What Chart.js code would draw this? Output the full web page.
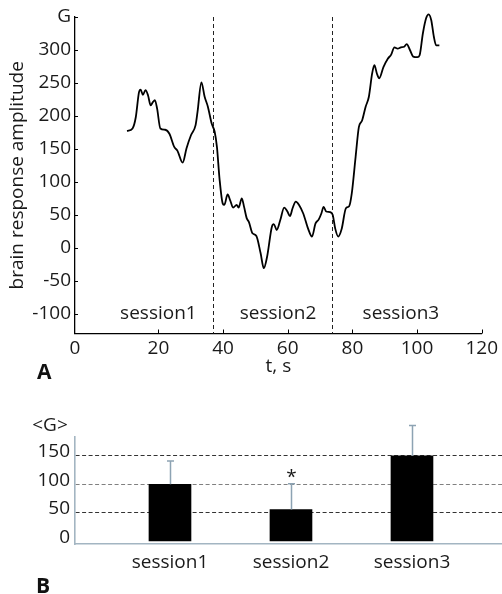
<!DOCTYPE html>
<html>
<head>
<meta charset="utf-8">
<script src="https://cdn.jsdelivr.net/npm/chart.js@4.4.1/dist/chart.umd.min.js"></script>
<style>
  body { margin: 0; background: #fff; }
  #wrap { position: relative; width: 502px; height: 594px; }
  canvas { display: block; }
  .panel { position: absolute; font: bold 21px "Open Sans", sans-serif; color: #111; }
</style>
</head>
<body>
<div id="wrap">
  <canvas id="topChart" width="502" height="395"></canvas>
  <canvas id="barChart" width="502" height="199"></canvas>
  <div class="panel" style="left:37px; top:357px;">A</div>
  <div class="panel" style="left:36px; top:571px;">B</div>
</div>
<script>
// panel A: brain response amplitude over time
const TIME = [10.3, 12.0, 13.0, 14.0, 14.5, 15.2, 16.0, 16.8, 17.6, 18.3, 18.9, 19.6, 20.6, 22.1,
  23.4, 24.9, 25.9, 27.5, 28.7, 30.1, 31.5, 32.1, 33.3, 34.3, 35.3, 36.5, 37.4, 38.1, 38.9,
  39.9, 40.4, 41.4, 42.2, 43.1, 44.2, 44.8, 45.8, 46.5, 47.3, 48.0, 49.1, 50.3, 51.6, 52.6,
  53.6, 55.1, 55.7, 56.6, 57.7, 58.9, 59.9, 60.7, 61.5, 62.5, 63.5, 64.8, 66.3, 67.5, 68.6,
  69.6, 70.4, 71.1, 71.9, 73.1, 73.9, 74.7, 75.6, 76.7, 78.0, 79.0, 79.8, 81.0, 82.0, 83.0,
  84.1, 85.1, 86.1, 86.8, 87.6, 88.3, 89.6, 91.0, 92.0, 93.0, 94.0, 95.0, 96.0, 96.8, 97.8,
  98.8, 100.1, 100.8, 101.8, 102.8, 103.6, 104.4, 105.2, 105.9, 106.9];
const AMPLITUDE = [177, 181, 198, 236, 240, 232, 239, 231, 216, 221, 224, 211, 181, 179,
  173, 153, 147, 129, 151, 171, 186, 206, 251, 229, 214, 188, 176, 153, 105,
  67, 65, 81, 72, 61, 65, 61, 75, 62, 45, 39, 22, 18, -8, -31,
  -14, 32, 36, 27, 42, 61, 55, 48, 60, 70, 65, 52, 29, 17, 37,
  43, 52, 62, 55, 54, 50, 29, 17, 29, 60, 63, 82, 138, 183, 193,
  214, 229, 264, 277, 264, 257, 274, 287, 293, 304, 302, 304, 305, 309, 300,
  290, 289, 292, 325, 348, 354, 345, 320, 307, 307];

const SESSIONS = ["session1", "session2", "session3"];
const SESSION_BOUNDS = [36.9, 73.6];
const SESSION_LABEL_T = [20, 57, 95];
const SESSION_LABEL_G = -100;

const X_MIN = -5.8, X_MAX = 120;
const X_TICKS = [20, 40, 60, 80, 100, 120];
const Y_MIN = -130, Y_MAX = 350;
const Y_TICKS = [-100, -50, 0, 50, 100, 150, 200, 250, 300, 350];

// panel B: mean amplitude per session
const MEANS = [100, 56, 150];
const ERRORS = [41, 45, 53];
const SIGNIF = ["", "*", ""];
const BAR_Y_TICKS = [0, 50, 100, 150];

const FONT = '"Open Sans", sans-serif';
const FS = 19;
const INK = "#1a1a1a";
Chart.defaults.font.family = FONT;
Chart.defaults.font.size = FS;
Chart.defaults.color = INK;

const topDecor = {
  id: "topDecor",
  beforeDatasetsDraw(chart) {
    const { ctx, chartArea, scales: { x } } = chart;
    ctx.save();
    ctx.strokeStyle = "#222";
    ctx.lineWidth = 1;
    ctx.setLineDash([4, 3]);
    SESSION_BOUNDS.forEach(t => {
      const px = Math.round(x.getPixelForValue(t)) + 0.5;
      ctx.beginPath();
      ctx.moveTo(px, chartArea.top);
      ctx.lineTo(px, chartArea.bottom);
      ctx.stroke();
    });
    ctx.restore();
  },
  afterDraw(chart) {
    const { ctx, chartArea, scales: { x, y } } = chart;
    ctx.save();
    // inward tick marks
    ctx.strokeStyle = "#000";
    ctx.lineWidth = 1;
    ctx.beginPath();
    Y_TICKS.forEach(v => {
      const py = Math.round(y.getPixelForValue(v)) + 0.5;
      ctx.moveTo(chartArea.left, py);
      ctx.lineTo(chartArea.left + 3, py);
    });
    X_TICKS.forEach(v => {
      const px = Math.round(x.getPixelForValue(v)) + 0.5;
      ctx.moveTo(px, chartArea.bottom);
      ctx.lineTo(px, chartArea.bottom - 4);
    });
    ctx.stroke();
    // session names
    ctx.fillStyle = INK;
    ctx.font = FS + "px " + FONT;
    ctx.textAlign = "center";
    ctx.textBaseline = "middle";
    SESSIONS.forEach((s, i) => {
      ctx.fillText(s, x.getPixelForValue(SESSION_LABEL_T[i]), y.getPixelForValue(SESSION_LABEL_G));
    });
    ctx.restore();
  }
};

new Chart(document.getElementById("topChart"), {
  type: "line",
  data: {
    labels: TIME,
    datasets: [{
      data: TIME.map((t, i) => ({ x: t, y: AMPLITUDE[i] })),
      borderColor: "#000",
      borderWidth: 1.8,
      pointRadius: 0,
      cubicInterpolationMode: "monotone",
      clip: false
    }]
  },
  options: {
    responsive: false,
    animation: false,
    layout: { padding: { top: 17, right: 15, left: 0, bottom: 0 } },
    plugins: { legend: { display: false }, tooltip: { enabled: false } },
    scales: {
      x: {
        type: "linear",
        min: X_MIN,
        max: X_MAX,
        offset: false,
        afterBuildTicks: s => { s.ticks = [X_MIN, ...X_TICKS].map(v => ({ value: v })); },
        afterFit: s => { s.height = 61.5; },
        grid: { display: false, drawTicks: false },
        border: { color: "#000", width: 1.3 },
        ticks: { padding: 4, maxRotation: 0, callback: v => (v === X_MIN ? "0" : v) },
        title: { display: true, text: "t, s", padding: { top: 0, bottom: 17 } }
      },
      y: {
        min: Y_MIN,
        max: Y_MAX,
        afterBuildTicks: s => { s.ticks = Y_TICKS.map(v => ({ value: v })); },
        afterFit: s => { s.width = 75; },
        grid: { display: false, drawTicks: false },
        border: { color: "#000", width: 1.3 },
        ticks: { padding: 4, callback: v => (v === Y_MAX ? "G" : v) },
        title: { display: true, text: "brain response amplitude", padding: { top: 6, bottom: 0 } }
      }
    }
  },
  plugins: [topDecor]
});

const barDecor = {
  id: "barDecor",
  afterDatasetsDraw(chart) {
    const { ctx, chartArea, scales: { x, y } } = chart;
    ctx.save();
    ctx.strokeStyle = "#8da3b3";
    ctx.lineWidth = 1.5;
    ctx.fillStyle = INK;
    ctx.font = FS + "px " + FONT;
    ctx.textAlign = "center";
    ctx.textBaseline = "middle";
    MEANS.forEach((m, i) => {
      const px = Math.round(x.getPixelForValue(i + 1)) + 0.5;
      const top = y.getPixelForValue(m + ERRORS[i]);
      ctx.beginPath();
      ctx.moveTo(px, y.getPixelForValue(m));
      ctx.lineTo(px, top);
      ctx.moveTo(px - 3.5, top);
      ctx.lineTo(px + 3.5, top);
      ctx.stroke();
      if (SIGNIF[i]) ctx.fillText(SIGNIF[i], px, top - 6);
    });
    ctx.fillText("<G>", chartArea.left - 25, chartArea.top - 11);
    ctx.restore();
  }
};

new Chart(document.getElementById("barChart"), {
  type: "bar",
  data: {
    datasets: [{
      data: SESSIONS.map((s, i) => ({ x: i + 1, y: MEANS[i] })),
      backgroundColor: "#000",
      barThickness: 42
    }]
  },
  options: {
    responsive: false,
    animation: false,
    layout: { padding: { top: 41.7, right: 0, left: 0, bottom: 0 } },
    plugins: { legend: { display: false }, tooltip: { enabled: false } },
    scales: {
      x: {
        type: "linear",
        min: 0.215,
        max: 3.744,
        offset: false,
        afterBuildTicks: s => { s.ticks = SESSIONS.map((n, i) => ({ value: i + 1 })); },
        afterFit: s => { s.height = 50; },
        grid: { display: false, drawTicks: false, offset: false },
        border: { color: "#a3b5c2", width: 1.6 },
        ticks: { padding: 7, maxRotation: 0, callback: v => SESSIONS[v - 1] }
      },
      y: {
        min: -4.4,
        max: 183.3,
        afterBuildTicks: s => { s.ticks = BAR_Y_TICKS.map(v => ({ value: v })); },
        afterFit: s => { s.width = 75; },
        grid: {
          drawTicks: false,
          lineWidth: 1,
          color: c => (c.tick && c.tick.value === 0 ? "rgba(0,0,0,0)" : c.tick && c.tick.value === 100 ? "#808080" : "#333")
        },
        border: { color: "#a3b5c2", width: 1.6, dash: [4, 2.5] },
        ticks: { padding: 5, labelOffset: -4 }
      }
    }
  },
  plugins: [barDecor]
});
</script>
</body>
</html>
